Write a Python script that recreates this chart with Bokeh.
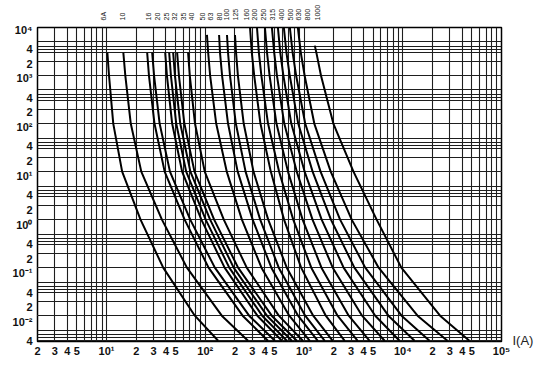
import math
from bokeh.plotting import figure
from bokeh.models import FixedTicker, Range1d, LogAxis, Grid, LogScale
from bokeh.embed import file_html
from bokeh.resources import INLINE

# ---- data ----
ratings = ["6A", "10", "16", "20", "25", "32", "35", "40", "50", "63", "80",
           "100", "125", "160", "200", "250", "315", "400", "500", "630", "800", "1000"]

# time levels (s) for each group of curves
t_small = [3000, 1000, 100, 10, 1, 0.1, 0.01, 0.003]          # 6A .. 50A
t_mid = [7000, 3000, 1000, 100, 10, 1, 0.1, 0.01, 0.003]      # 63A .. 125A
t_big = [10000, 3000, 1000, 100, 10, 1, 0.1, 0.01, 0.003]     # 160A .. 800A
t_1000 = [4200, 3000, 1000, 100, 10, 1, 0.1, 0.01, 0.003]     # 1000A

# current (A) at those time levels
I_6 = [10.2, 10.6, 11.7, 14.4, 22.1, 37.5, 78.4, 135]
I_10 = [14.8, 15.5, 17.6, 22.5, 36.4, 65.2, 147, 271]
I_16 = [25.8, 26.9, 30.6, 38.8, 61.8, 108, 239, 431]
I_20 = [29.0, 30.3, 34.5, 43.9, 70.4, 125, 278, 507]
I_25 = [39.3, 40.9, 46.2, 58.3, 91.3, 157, 337, 597]
I_32 = [43.1, 44.9, 50.8, 64.1, 101, 175, 377, 670]
I_35 = [47.3, 49.3, 55.8, 70.7, 112, 194, 421, 753]
I_40 = [51.9, 54.1, 61.4, 77.8, 123, 215, 471, 846]
I_50 = [67.0, 69.7, 78.7, 98.8, 154, 263, 555, 973]
I_63 = [104, 107, 112, 129, 165, 235, 371, 709, 1144]
I_80 = [138, 141, 148, 170, 213, 302, 467, 870, 1378]
I_100 = [166, 170, 178, 204, 256, 360, 555, 1028, 1622]
I_125 = [200, 205, 214, 245, 308, 434, 669, 1239, 1954]
I_160 = [284, 296, 313, 362, 461, 628, 935, 1661, 2582]
I_200 = [334, 349, 370, 432, 559, 778, 1185, 2185, 3495]
I_250 = [402, 422, 448, 526, 688, 968, 1502, 2836, 4620]
I_315 = [473, 499, 532, 631, 844, 1219, 1954, 3872, 6550]
I_400 = [544, 575, 618, 743, 1014, 1509, 2518, 5263, 9284]
I_500 = [625, 664, 717, 874, 1222, 1874, 3238, 7152, 13158]
I_630 = [719, 767, 832, 1028, 1471, 2320, 4170, 9726, 18652]
I_800 = [866, 928, 1014, 1271, 1865, 3040, 5697, 14110, 28356]
I_1000 = [1286, 1334, 1485, 1982, 3170, 5438, 9680, 23872, 47274]

curves = [
    (I_6, t_small), (I_10, t_small), (I_16, t_small), (I_20, t_small),
    (I_25, t_small), (I_32, t_small), (I_35, t_small), (I_40, t_small),
    (I_50, t_small), (I_63, t_mid), (I_80, t_mid), (I_100, t_mid),
    (I_125, t_mid), (I_160, t_big), (I_200, t_big), (I_250, t_big),
    (I_315, t_big), (I_400, t_big), (I_500, t_big), (I_630, t_big),
    (I_800, t_big), (I_1000, t_1000),
]

# current positions of the rating labels along the top
label_I = [9.28, 14.4, 26.4, 32.6, 40.2, 48.4, 59.7, 71.9, 92.8, 112, 138,
           166, 204, 264, 318, 393, 484, 597, 736, 886, 1092, 1378]

# axes
x_tick_mult = [1, 2, 3, 4, 5]
x_grid_mult = [1, 2, 3, 4, 5, 6, 7, 8, 9]
y_tick_mult = [1, 2, 4]
y_grid_mult = [1, 2, 3, 3.5, 4, 5]
unit_label = "I(A)"
unit_label_time = 3.05e-3

SUP = {"-": "\u207b", "0": "\u2070", "1": "\u00b9", "2": "\u00b2", "3": "\u00b3",
       "4": "\u2074", "5": "\u2075"}


def sup(n):
    return "10" + "".join(SUP[c] for c in str(n))


X0, X1 = 2, 1e5
Y0, Y1 = 2.9e-3, 1e4

x_ticks, x_labels = [], {}
for n in range(0, 6):
    for m in x_tick_mult:
        v = float(m * 10 ** n)
        if X0 <= v <= X1:
            x_ticks.append(v)
            x_labels[v] = sup(n) if m == 1 else str(m)

x_grid = []
for n in range(0, 5):
    for m in x_grid_mult:
        v = float(m * 10 ** n)
        if X0 <= v <= X1:
            x_grid.append(v)
x_grid.append(float(X1))

y_ticks, y_labels = [], {}
for n in range(-3, 5):
    for m in y_tick_mult:
        v = m * 10.0 ** n
        if 3.9e-3 <= v <= 1.0001e4:
            y_ticks.append(v)
            y_labels[v] = sup(n) if m == 1 else str(m)

y_grid = []
for n in range(-3, 4):
    for m in y_grid_mult:
        v = m * 10.0 ** n
        if Y0 <= v <= Y1:
            y_grid.append(v)
y_grid.append(float(Y1))

W, H = 536, 367
BL, BR, BT, BB = 37, 34, 27, 26

p = figure(width=W, height=H, x_axis_type="log", y_axis_type="log",
           x_range=Range1d(X0, X1), y_range=Range1d(Y0, Y1),
           y_axis_location=None,
           output_backend="svg", toolbar_location=None,
           min_border_left=BL, min_border_right=BR,
           min_border_top=BT, min_border_bottom=BB)
p.background_fill_color = "white"
p.border_fill_color = "white"
p.outline_line_color = "black"
p.outline_line_width = 1.5

# the time labels of the original sit on a slightly different scale than its grid
p.extra_y_ranges = {"lab": Range1d(3.98e-3, 1.1e4)}
p.extra_y_scales = {"lab": LogScale()}
yax = LogAxis(y_range_name="lab", ticker=FixedTicker(ticks=y_ticks))
yax.major_label_overrides = y_labels
p.add_layout(yax, "left")

xax = p.xaxis[0]
xax.ticker = FixedTicker(ticks=x_ticks)
xax.major_label_overrides = x_labels

# fuse ratings along the top
tax = LogAxis(ticker=FixedTicker(ticks=label_I))
tax.major_label_overrides = {v: r for v, r in zip(label_I, ratings)}
tax.major_label_orientation = "vertical"
p.add_layout(tax, "above")

# unit label at the right end of the current axis
rax = LogAxis(ticker=FixedTicker(ticks=[unit_label_time]))
rax.major_label_overrides = {unit_label_time: unit_label}
p.add_layout(rax, "right")

for ax in (xax, yax, tax, rax):
    ax.axis_line_color = None
    ax.major_tick_line_color = None
    ax.minor_tick_line_color = None
    ax.major_tick_in = 0
    ax.major_tick_out = 0
    ax.minor_tick_in = 0
    ax.minor_tick_out = 0
    ax.major_label_text_font = "Liberation Sans"
    ax.major_label_text_font_style = "bold"
    ax.major_label_text_font_size = "11px"
    ax.major_label_text_color = "#111111"
xax.major_label_standoff = 3
yax.major_label_standoff = 5

tax.major_label_text_font_style = "normal"
tax.major_label_text_font_size = "7px"
tax.major_label_text_color = "#1a1a1a"
tax.major_label_standoff = 7

rax.major_label_text_font_style = "normal"
rax.major_label_text_font_size = "13px"
rax.major_label_text_color = "#222222"
rax.major_label_standoff = 11

p.xgrid.ticker = FixedTicker(ticks=x_grid)
p.xgrid.grid_line_color = "#1e1e1e"
p.xgrid.grid_line_width = 1.1

yg = Grid(dimension=1, ticker=FixedTicker(ticks=y_grid),
          grid_line_color="#1e1e1e", grid_line_width=1.1)
p.add_layout(yg)

for I, t in curves:
    p.line(I, t, line_color="black", line_width=2)

open("out.html", "w").write(file_html(p, INLINE))
